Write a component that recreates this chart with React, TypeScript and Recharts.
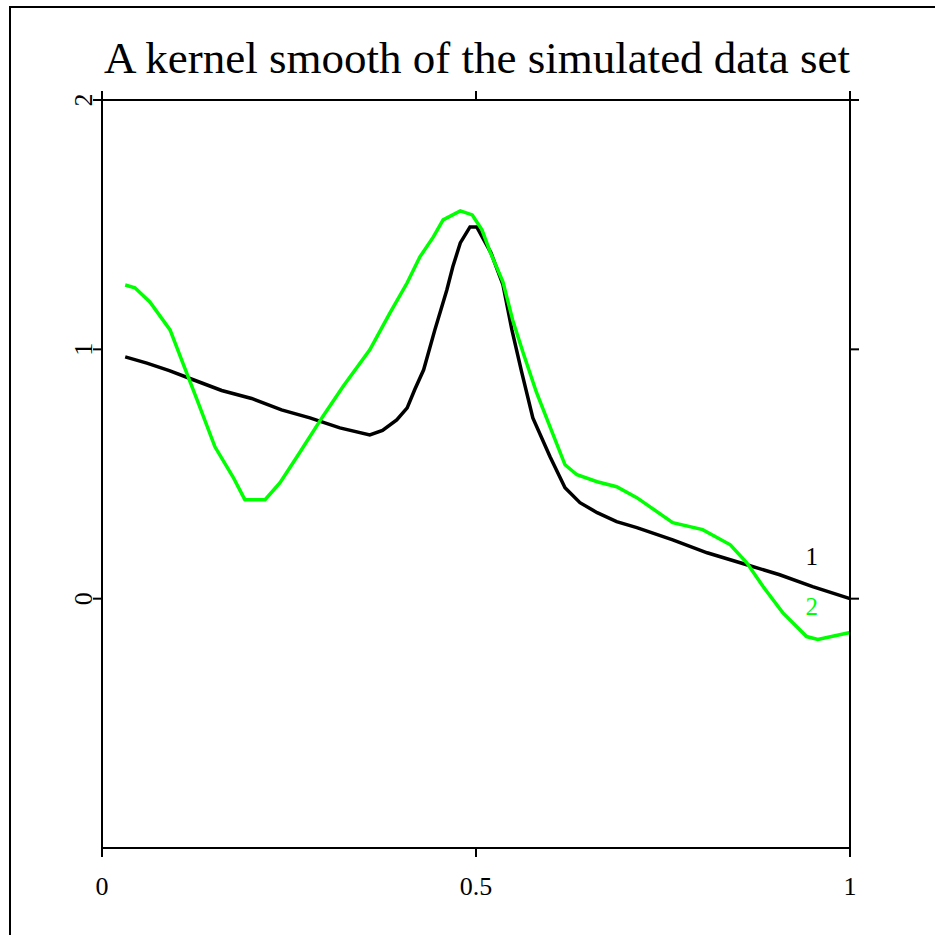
import React from "react";
import { LineChart, Line, XAxis, YAxis, ReferenceDot } from "recharts";

// curve 1 (black)
const blackX = [0.031, 0.06, 0.09, 0.122, 0.16, 0.2, 0.24, 0.278, 0.318, 0.358, 0.375, 0.394, 0.408, 0.418, 0.43, 0.445, 0.461, 0.469, 0.479, 0.492, 0.501, 0.52, 0.536, 0.548, 0.561, 0.576, 0.599, 0.619, 0.639, 0.662, 0.688, 0.715, 0.763, 0.809, 0.862, 0.906, 0.95, 1.0];
const blackY = [0.97, 0.945, 0.915, 0.878, 0.835, 0.803, 0.757, 0.725, 0.685, 0.657, 0.675, 0.717, 0.765, 0.838, 0.918, 1.078, 1.238, 1.331, 1.427, 1.491, 1.491, 1.387, 1.259, 1.078, 0.91, 0.725, 0.569, 0.445, 0.385, 0.345, 0.309, 0.285, 0.236, 0.184, 0.136, 0.096, 0.048, 0.0];

// curve 2 (green)
const greenX = [0.031, 0.044, 0.064, 0.091, 0.108, 0.127, 0.151, 0.175, 0.191, 0.218, 0.238, 0.265, 0.295, 0.322, 0.358, 0.385, 0.408, 0.425, 0.443, 0.456, 0.479, 0.495, 0.508, 0.519, 0.536, 0.549, 0.563, 0.581, 0.599, 0.619, 0.635, 0.662, 0.688, 0.715, 0.763, 0.803, 0.84, 0.862, 0.884, 0.91, 0.942, 0.957, 1.0];
const greenY = [1.258, 1.247, 1.19, 1.078, 0.946, 0.798, 0.609, 0.489, 0.397, 0.397, 0.465, 0.589, 0.73, 0.85, 0.998, 1.146, 1.267, 1.371, 1.451, 1.519, 1.555, 1.539, 1.479, 1.39, 1.271, 1.118, 0.986, 0.826, 0.689, 0.537, 0.497, 0.469, 0.449, 0.405, 0.305, 0.277, 0.216, 0.144, 0.048, -0.056, -0.152, -0.164, -0.136];

const xTicks = [0, 0.5, 1];
const yTicks = [0, 1, 2];
const TITLE = "A kernel smooth of the simulated data set";

const blackData = blackX.map((x, i) => ({ x, y: blackY[i] }));
const greenData = greenX.map((x, i) => ({ x, y: greenY[i] }));

const FONT = "'Liberation Serif', 'Times New Roman', serif";
const axisProps = {
  stroke: "#000",
  axisLine: { stroke: "#000", strokeWidth: 2 },
  tickLine: { stroke: "#000", strokeWidth: 2 },
  tickSize: 9,
  tickMargin: 2,
  interval: 0 as const,
};

const NoLabel = () => <g />;

const XTick = (props: any) => (
  <text x={props.x} y={props.y + 36} textAnchor="middle" fontFamily={FONT} fontSize={26} fill="#000">
    {props.payload.value}
  </text>
);

const YTick = (props: any) => (
  <text
    x={92}
    y={props.y}
    textAnchor="middle"
    fontFamily={FONT}
    fontSize={26}
    fill="#000"
    transform={`rotate(-90, 92, ${props.y})`}
  >
    {props.payload.value}
  </text>
);

const curveLabel = (text: string, color: string) => (p: any) => {
  const { viewBox } = p;
  const cx = viewBox.x + (viewBox.width || 0) / 2;
  const cy = viewBox.y + (viewBox.height || 0) / 2;
  return (
    <text x={cx} y={cy + 8} textAnchor="middle" fontFamily={FONT} fontSize={25} fill={color}>
      {text}
    </text>
  );
};

export default function App() {
  return (
    <div style={{ position: "absolute", left: 0, top: 0, width: 935, height: 935, background: "#fff" }}>
      <svg width={935} height={935} style={{ position: "absolute", left: 0, top: 0 }}>
        <rect x={10} y={7} width={1000} height={1000} fill="none" stroke="#000" strokeWidth={2} />
        <text x={477} y={73} textAnchor="middle" fontFamily={FONT} fontSize={45} fill="#000">
          {TITLE}
        </text>
      </svg>
      <div style={{ position: "absolute", left: 0, top: 0 }}>
        <LineChart width={935} height={935} margin={{ top: 99, left: 101, right: 84, bottom: 86 }}>
          <XAxis xAxisId="b" type="number" dataKey="x" domain={[0, 1]} ticks={xTicks} height={1} tick={<XTick />} {...axisProps} />
          <XAxis xAxisId="t" orientation="top" type="number" dataKey="x" domain={[0, 1]} ticks={xTicks} height={1} tick={<NoLabel />} {...axisProps} />
          <YAxis yAxisId="l" type="number" domain={[-1, 2]} ticks={yTicks} width={1} tick={<YTick />} {...axisProps} />
          <YAxis yAxisId="r" orientation="right" type="number" domain={[-1, 2]} ticks={yTicks} width={1} tick={<NoLabel />} {...axisProps} />
          {/* invisible copy so the top/right frame axes get a domain and draw their ticks */}
          <Line xAxisId="t" yAxisId="r" data={blackData} dataKey="y" type="linear" stroke="none" dot={false} activeDot={false} isAnimationActive={false} />
          <Line xAxisId="b" yAxisId="l" data={blackData} dataKey="y" type="linear" stroke="#000" strokeWidth={3.5} dot={false} isAnimationActive={false} />
          <Line xAxisId="b" yAxisId="l" data={greenData} dataKey="y" type="linear" stroke="#00ff00" strokeWidth={3.5} dot={false} isAnimationActive={false} />
          <ReferenceDot xAxisId="b" yAxisId="l" x={0.949} y={0.168} r={0} stroke="none" label={curveLabel("1", "#000")} />
          <ReferenceDot xAxisId="b" yAxisId="l" x={0.949} y={-0.032} r={0} stroke="none" label={curveLabel("2", "#00ff00")} />
        </LineChart>
      </div>
    </div>
  );
}
